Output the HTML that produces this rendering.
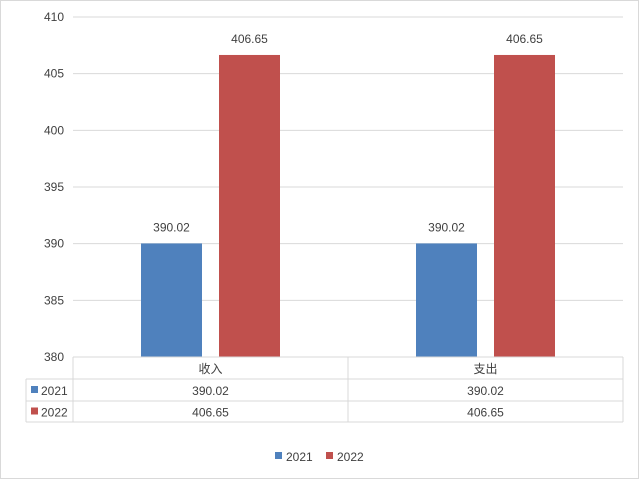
<!DOCTYPE html>
<html><head><meta charset="utf-8"><style>
body{margin:0;background:#fff;font-family:"Liberation Sans","Noto Sans CJK SC",sans-serif;}
svg text{font-family:"Liberation Sans","Noto Sans CJK SC",sans-serif;fill:#404040;font-size:12px;}
</style></head><body>
<svg id="c" width="640" height="480">
<rect x="0.5" y="0.5" width="638" height="478" fill="#fff" stroke="#d9d9d9"/>
<g id="g"></g>
</svg>
<script>
const categories=["收入","支出"];
const seriesNames=["2021","2022"];
const s2021=[390.02,390.02];
const s2022=[406.65,406.65];
const labels2021=["390.02","390.02"];
const labels2022=["406.65","406.65"];
const ticks=[380,385,390,395,400,405,410];
const colors=["#4f81bd","#c0504d"];
const L=73,R=623,T=17,B=357,ymin=380,ymax=410;
const y=v=>B-(v-ymin)/(ymax-ymin)*(B-T);
const cw=(R-L)/categories.length;
const g=document.getElementById('g');const NS="http://www.w3.org/2000/svg";
function el(t,a,txt){const e=document.createElementNS(NS,t);for(const k in a)e.setAttribute(k,a[k]);if(txt!=null)e.textContent=txt;g.appendChild(e);return e;}
ticks.forEach(t=>{
 const l=el('line',{x1:L,x2:R,y1:y(t),y2:y(t),stroke:'#d9d9d9'});
 
 
 const tx=el('text',{x:L-9,y:y(t)+4,'text-anchor':'end'},t);
 
 
});
const series=[s2021,s2022],lbls=[labels2021,labels2022];
const bw=61,gap=17;
categories.forEach((c,i)=>{
 const cx=L+cw*(i+0.5);
 series.forEach((s,j)=>{
  const x=cx-gap/2-bw+j*(bw+gap);
  const r=el('rect',{x:x,y:y(s[i]),width:bw,height:B-y(s[i]),fill:colors[j]});
  
  
  const t=el('text',{x:x+bw/2,y:y(s[i])-12,'text-anchor':'middle'},lbls[j][i]);
  
  
 });
});
// table
const tl=26,rows=[357,379,401,422];
[[L,R,357],[tl,R,379],[tl,R,401],[tl,R,422]].forEach(a=>{const l=el('line',{x1:a[0],x2:a[1],y1:a[2],y2:a[2],stroke:'#d9d9d9'});});
[[tl,379],[L,357],[L+cw,357],[R,357]].forEach(a=>{const l=el('line',{x1:a[0],x2:a[0],y1:a[1],y2:422,stroke:'#d9d9d9'});});
categories.forEach((c,i)=>{
 const t=el('text',{x:L+cw*(i+0.5),y:373,'text-anchor':'middle'},c);
 
 
 series.forEach((s,j)=>{
  const v=el('text',{x:L+cw*(i+0.5),y:395+j*21.5,'text-anchor':'middle'},lbls[j][i]);
  
  
 });
});
seriesNames.forEach((n,j)=>{
 const r=el('rect',{x:31,y:386+j*21.5,width:7,height:7,fill:colors[j]});
 
 
 const t=el('text',{x:41,y:395+j*21.5},n);
 
 
 const lr=el('rect',{x:275+j*51,y:452,width:7,height:7,fill:colors[j]});
 
 
 const lt=el('text',{x:286+j*51,y:461},n);
 
 
});
</script>
</body></html>
